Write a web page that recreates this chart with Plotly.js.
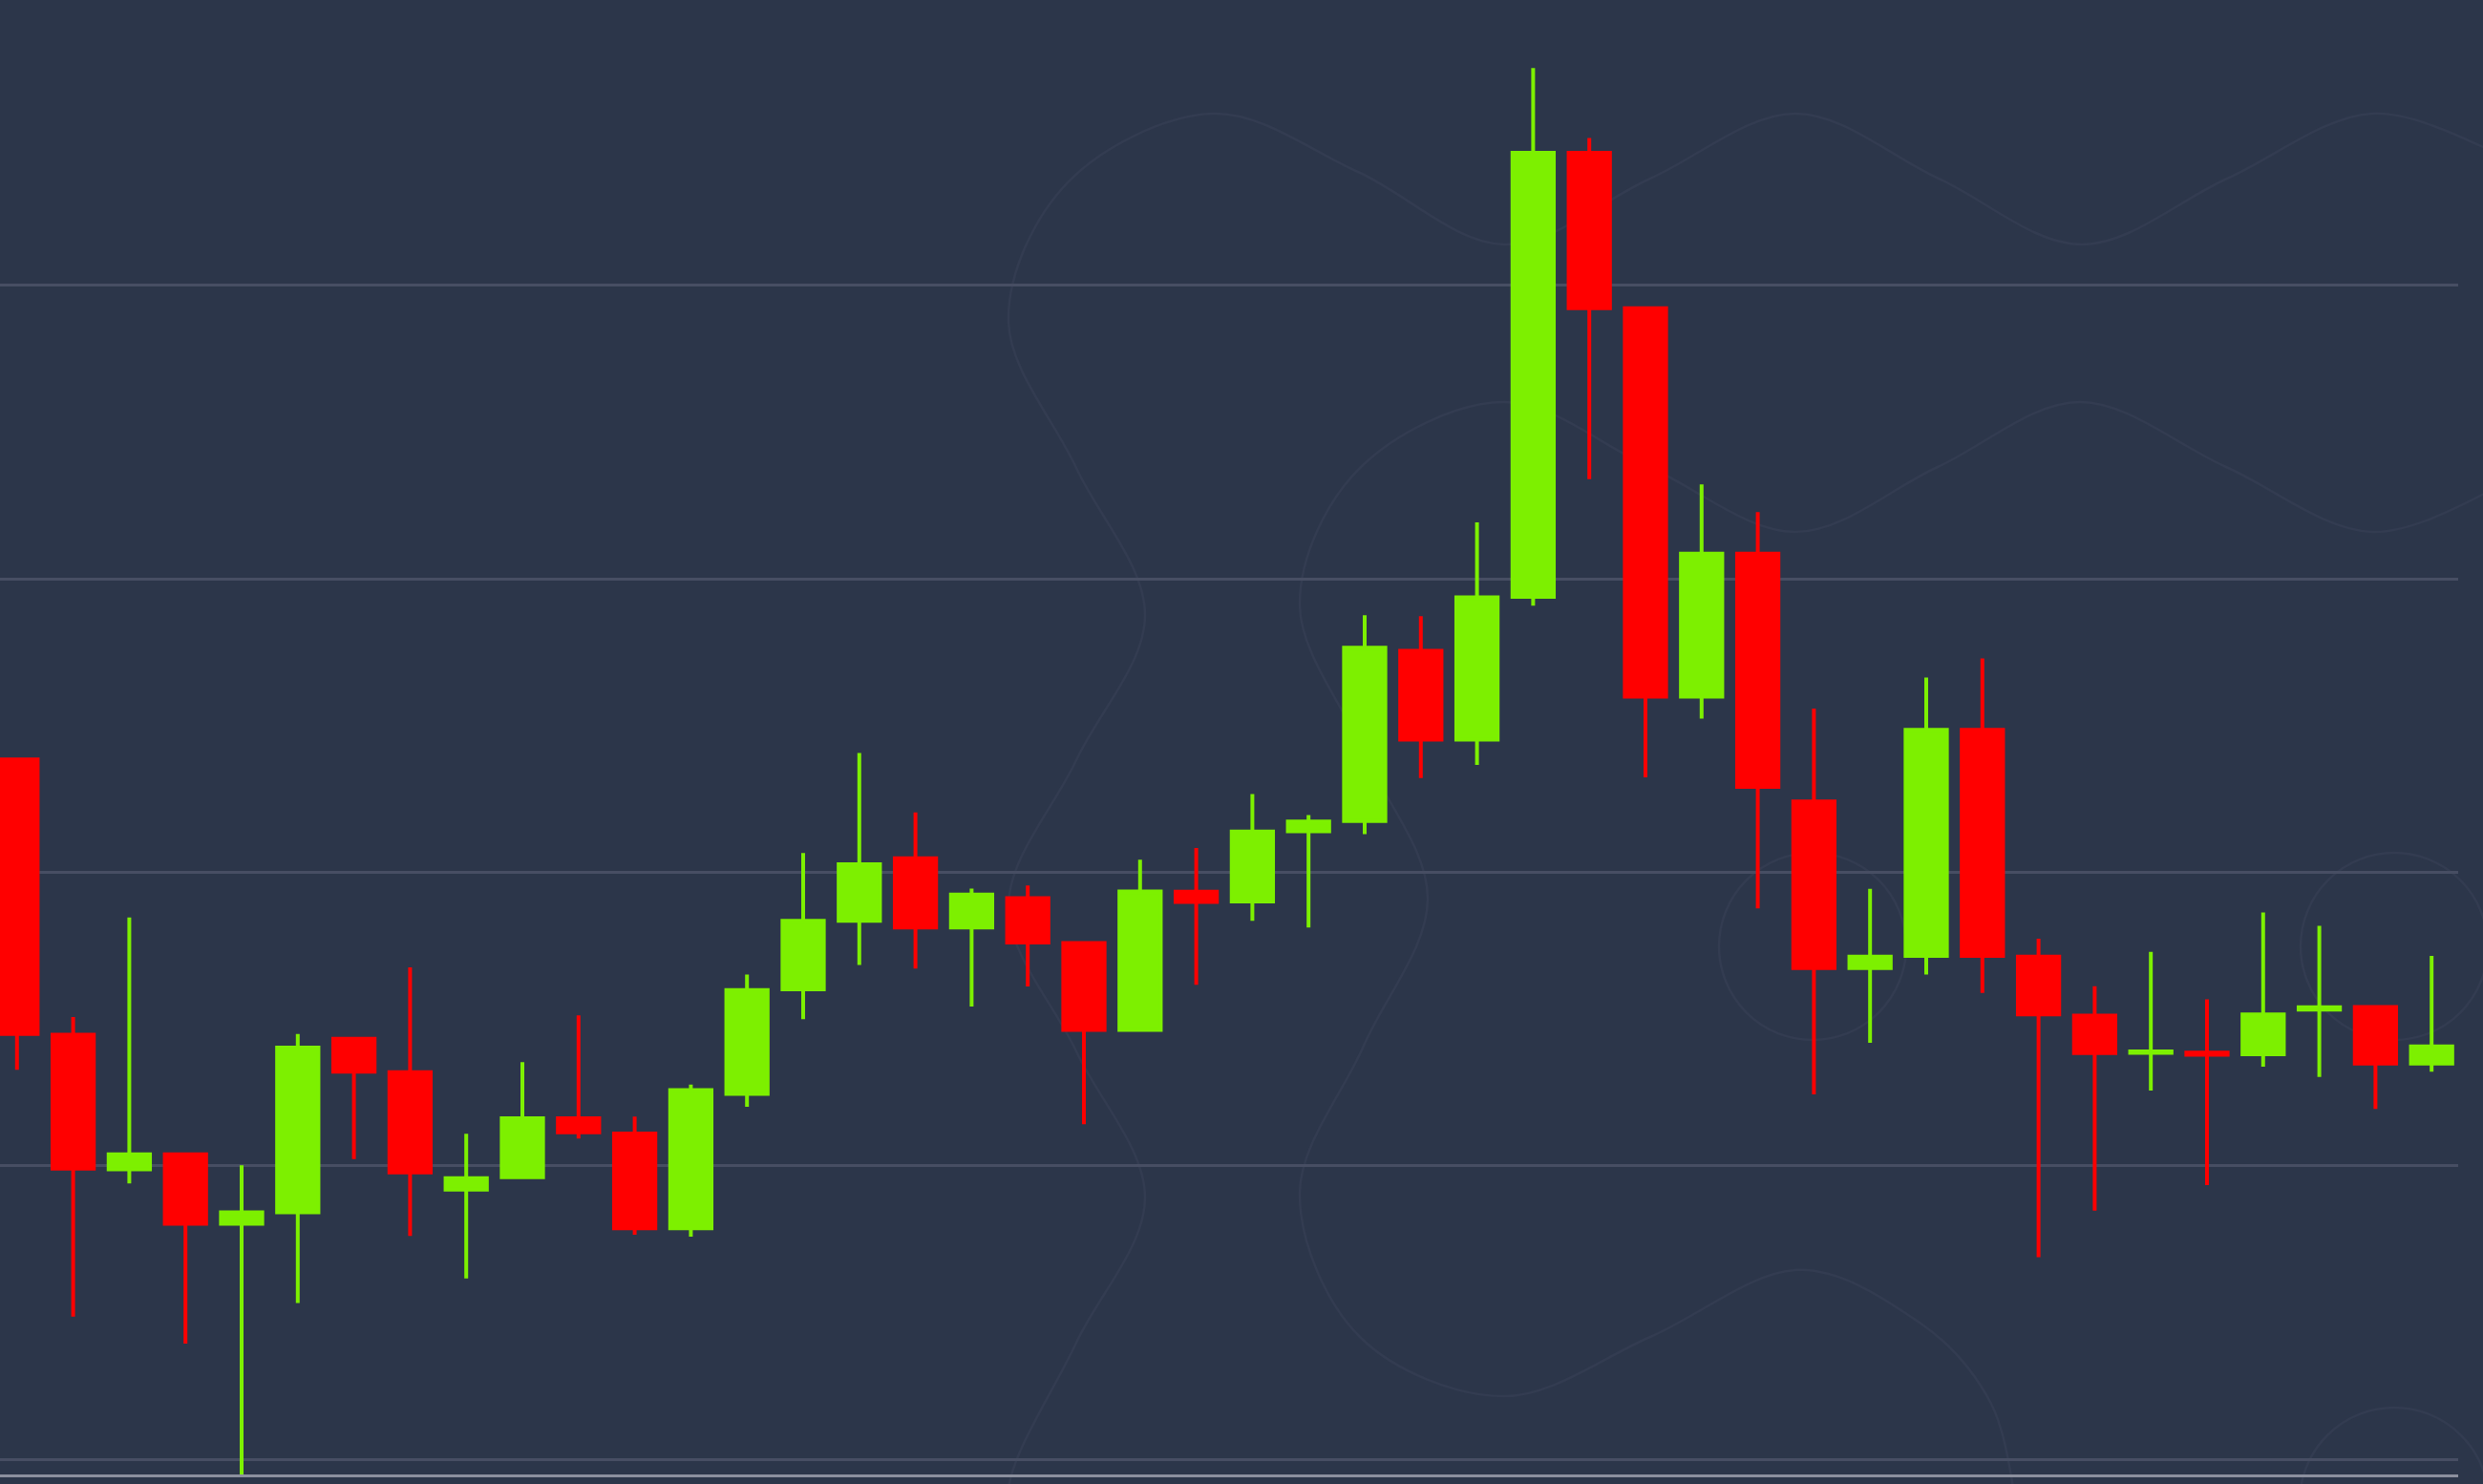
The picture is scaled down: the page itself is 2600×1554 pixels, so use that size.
<!DOCTYPE html>
<html>
<head>
<meta charset="utf-8">
<script src="https://cdn.plot.ly/plotly-3.0.1.min.js"></script>
<style>html,body{margin:0;padding:0;background:#2c364a;overflow:hidden}</style>
</head>
<body>
<div id="chart" style="width:2600px;height:1554px"></div>
<script>
// Candle index (period) and OHLC values
const periods = [0,1,2,3,4,5,6,7,8,9,10,11,12,13,14,15,16,17,18,19,20,21,22,23,24,25,26,27,28,29,30,31,32,33,34,35,36,37,38,39,40,41,42,43];
const openPrices  = [1238.5,1144.7,1098.8,1103.9,1080.2,1084.1,1143.3,1131.9,1091.9,1096.1,1116.2,1111.0,1078.7,1124.5,1160.1,1183.5,1204.8,1181.2,1191.2,1175.9,1146.3,1193.4,1190.1,1214.0,1217.5,1275.5,1245.2,1293.9,1445.2,1392.3,1259.9,1308.6,1224.2,1167.4,1171.5,1248.6,1171.3,1151.2,1138.5,1138.6,1138.0,1153.2,1154.1,1134.8];
const highPrices  = [1239.0,1150.7,1184.6,1104.0,1100.2,1144.9,1143.5,1167.6,1110.9,1135.3,1151.3,1116.8,1127.7,1165.2,1206.6,1240.7,1220.4,1194.5,1195.5,1176.0,1204.3,1208.3,1226.7,1219.5,1287.6,1287.3,1319.3,1474.1,1450.3,1392.5,1332.2,1322.8,1255.8,1194.4,1266.4,1272.9,1177.4,1161.2,1172.9,1156.7,1186.3,1181.8,1154.2,1171.5];
const lowPrices   = [1132.7,1048.6,1094.0,1039.4,990.0,1053.2,1102.3,1076.1,1061.6,1096.1,1109.3,1076.5,1075.8,1120.1,1150.0,1168.4,1167.2,1154.3,1161.1,1114.2,1146.3,1161.7,1183.5,1181.2,1213.0,1232.1,1236.6,1290.9,1334.0,1232.4,1252.4,1187.7,1124.3,1141.9,1165.2,1158.9,1068.8,1084.7,1125.6,1093.4,1133.8,1130.3,1119.4,1132.1];
const closePrices = [1144.9,1099.0,1103.9,1080.2,1084.1,1140.3,1132.1,1097.7,1095.8,1116.2,1111.4,1078.7,1125.8,1159.9,1183.5,1202.8,1181.2,1192.4,1176.1,1146.3,1193.5,1189.9,1213.9,1217.3,1276.6,1245.2,1293.7,1445.2,1392.3,1259.9,1308.6,1229.1,1167.4,1171.3,1248.6,1171.5,1151.6,1138.4,1139.0,1137.8,1151.6,1154.0,1134.8,1140.7];
const gridValues = [1000,1100,1200,1300,1400];

const UP = '#7df000';
const DOWN = '#ff0000';
const BG = '#2c364a';
const DECO = '#333c51';

// ---- faint decorative background pattern (not data) ----
const PLOT_W = 2574, PLOT_H = 1544;
function P(p) { return (p[0] / PLOT_W).toFixed(5) + ',' + (1 - p[1] / PLOT_H).toFixed(5); }
function smooth(pts) {
  let d = 'M' + P(pts[0]);
  for (let i = 0; i < pts.length - 1; i++) {
    const p0 = pts[i - 1] || pts[i], p1 = pts[i], p2 = pts[i + 1], p3 = pts[i + 2] || p2;
    const c1 = [p1[0] + (p2[0] - p0[0]) / 6, p1[1] + (p2[1] - p0[1]) / 6];
    const c2 = [p2[0] - (p3[0] - p1[0]) / 6, p2[1] - (p3[1] - p1[1]) / 6];
    d += ' C' + P(c1) + ' ' + P(c2) + ' ' + P(p2);
  }
  return d;
}
const decoCurves = [
  [[1100,1640],[1056,1559],[1127,1406],[1199,1254],[1127,1101],[1056,949],[1127,796],[1199,644],[1127,490],[1056,337],[1119,190],[1270,119],[1422,180],[1575,256],[1728,187],[1880,119],[2030,187],[2180,256],[2332,187],[2484,119],[2636,170]],
  [[2636,500],[2484,557],[2331,489],[2178,421],[2029,489],[1880,557],[1727,489],[1575,421],[1424,490],[1361,634],[1428,788],[1495,941],[1428,1095],[1361,1249],[1424,1400],[1575,1462],[1728,1400],[1880,1330],[2010,1385],[2085,1470],[2112,1580]]
];
const decoCircles = [[1898,991,98],[2507,991,98],[2507,1573,99]];
const shapes = [];
decoCurves.forEach(c => shapes.push({type:'path', xref:'paper', yref:'paper', layer:'below', path: smooth(c), line:{color:DECO, width:2.5}}));
decoCircles.forEach(c => shapes.push({type:'circle', xref:'paper', yref:'paper', layer:'below',
  x0:(c[0]-c[2])/PLOT_W, x1:(c[0]+c[2])/PLOT_W, y0:1-(c[1]+c[2])/PLOT_H, y1:1-(c[1]-c[2])/PLOT_H, line:{color:DECO, width:2.5}}));

const trace = {
  type: 'candlestick',
  x: periods,
  open: openPrices,
  high: highPrices,
  low: lowPrices,
  close: closePrices,
  increasing: {line: {color: UP, width: 4}, fillcolor: UP},
  decreasing: {line: {color: DOWN, width: 4}, fillcolor: DOWN},
  whiskerwidth: 0,
  hoverinfo: 'skip',
  showlegend: false
};

const layout = {
  width: 2600,
  height: 1554,
  margin: {l: 0, r: 26, t: 0, b: 10, pad: 0},
  paper_bgcolor: BG,
  plot_bgcolor: 'rgba(0,0,0,0)',
  boxgap: 0.264,
  boxgroupgap: 0,
  showlegend: false,
  shapes: shapes,
  xaxis: {
    range: [-0.3027, 43.473],
    showgrid: false,
    zeroline: false,
    showline: true,
    linecolor: '#8c909e',
    linewidth: 3,
    ticks: '',
    showticklabels: false,
    rangeslider: {visible: false},
    fixedrange: true
  },
  yaxis: {
    range: [994.8, 1497.3],
    tickmode: 'array',
    tickvals: gridValues,
    showgrid: true,
    gridcolor: '#474e63',
    gridwidth: 3,
    zeroline: false,
    showline: false,
    ticks: '',
    showticklabels: false,
    fixedrange: true
  }
};

Plotly.newPlot('chart', [trace], layout, {displayModeBar: false, staticPlot: true});
</script>
</body>
</html>
